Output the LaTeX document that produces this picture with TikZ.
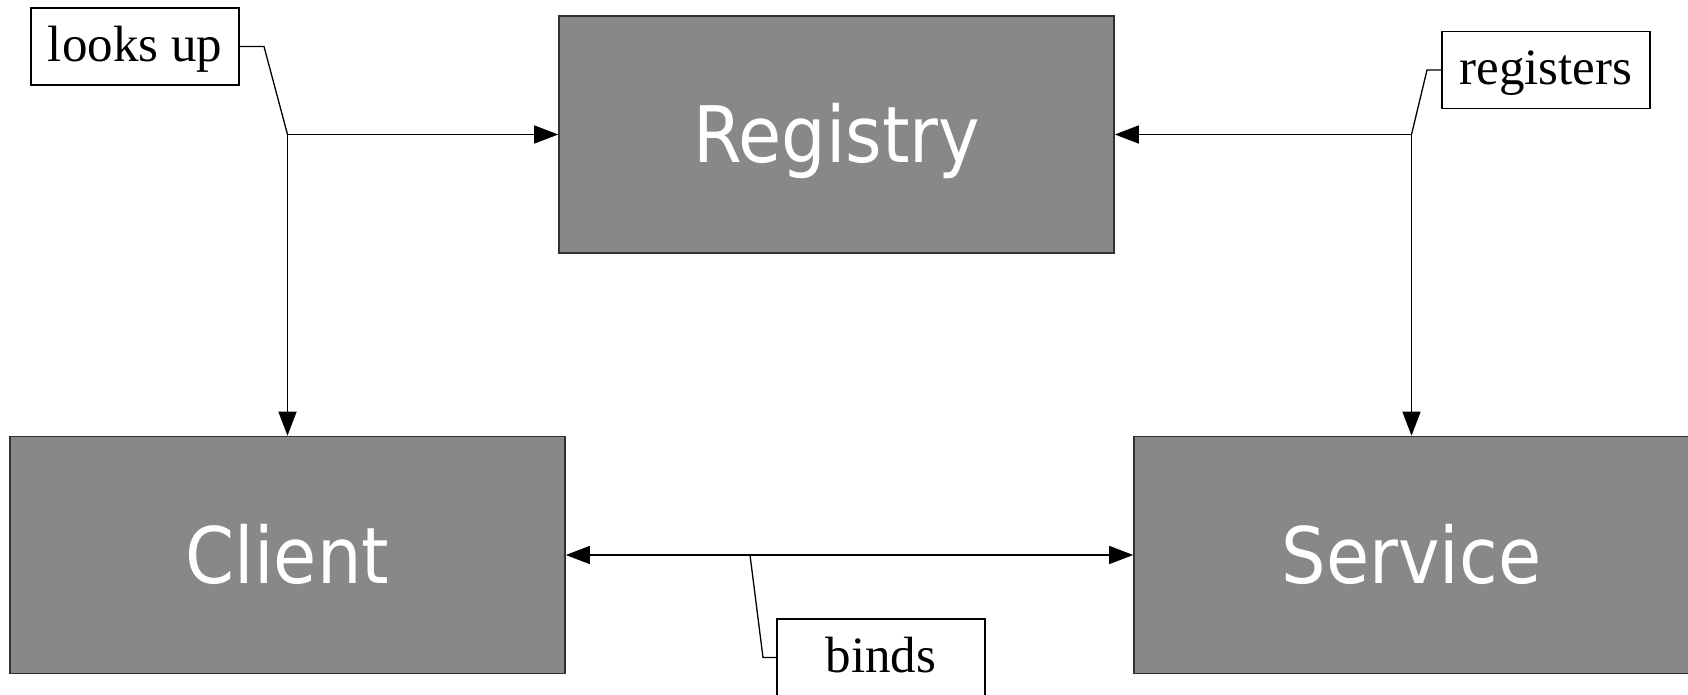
\documentclass[tikz,border=0pt]{standalone}
\usepackage{fontspec}
\setmainfont{Liberation Serif}
\newfontfamily\boxfont{DejaVu Sans Condensed}
\usepackage{xcolor}
\usepackage{tikz}
\usetikzlibrary{arrows.meta}
\definecolor{boxgray}{RGB}{136,136,136}
\definecolor{boxrim}{RGB}{50,50,50}

\begin{document}
\begin{tikzpicture}[x=1pt,y=-1pt,
	box/.style={fill=boxgray,draw=boxrim,line width=1.6pt,minimum width=555pt,minimum height=237pt,
		text=white,font=\boxfont\fontsize{78}{80}\selectfont,text height=57pt,text depth=0pt,inner sep=0pt},
	tag/.style={fill=white,draw,line width=1.3pt,minimum width=208pt,minimum height=77pt,
		font=\fontsize{51}{54}\selectfont,text height=30pt,text depth=0pt,inner sep=0pt},
	link/.style={line width=1.4pt,-{Triangle[length=24pt,width=18pt]}},
	leader/.style={line width=1.3pt}]
			\useasboundingbox (0,0) rectangle (1688,695);
			\coordinate (r) at (836.5,134.5);
			\coordinate (c) at (287.5,555);
			\coordinate (s) at (1411.5,555);
			\coordinate (t1) at (135,46.5);
			\coordinate (t2) at (1546,70);
			\coordinate (t3) at (881,657.5);

			\node (registry) at (r) [box] {Registry};
			\node (client) at (c) [box] {Client};
			\node (service) at (s) [box] {Service};

			\node (looksup) at (t1) [tag] {looks up};
			\node (registers) at (t2) [tag] {registers};
			\node (binds) at (t3) [tag] {binds};

			\coordinate (fl) at (client.north |- registry.west);
			\coordinate (fr) at (service.north |- registry.east);
			\coordinate (fb) at (750,555);
			\coordinate (kl) at (264,46.5);
			\coordinate (kr) at (1427,70);
			\coordinate (kb) at (763,657.5);

			\draw[link] (fl) -- (registry.west);
			\draw[link] (fl) -- (client.north);
			\draw[link] (fr) -- (registry.east);
			\draw[link] (fr) -- (service.north);
			\draw[link,{Triangle[length=24pt,width=18pt]}-{Triangle[length=24pt,width=18pt]}] (client.east) -- (service.west);

			\draw[leader] (looksup.east) -- (kl) -- (fl);
			\draw[leader] (registers.west) -- (kr) -- (fr);
			\draw[leader] (binds.west) -- (kb) -- (fb);
		\end{tikzpicture}
\end{document}
